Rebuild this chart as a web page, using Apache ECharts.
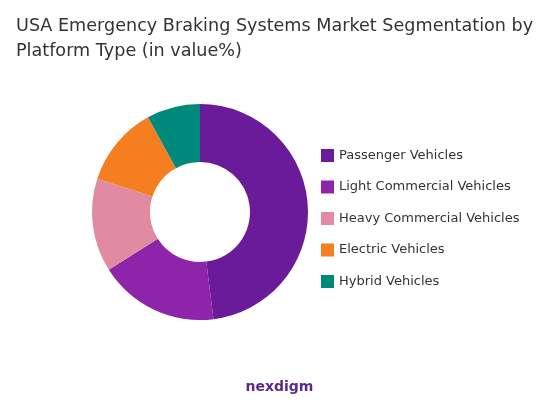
<!DOCTYPE html>
<html>
<head>
<meta charset="utf-8">
<script src="https://cdn.jsdelivr.net/npm/echarts@6/dist/echarts.min.js"></script>
<style>html,body{margin:0;padding:0;background:#fff}#chart{width:559px;height:407px}</style>
</head>
<body>
<div id="chart"></div>
<script>
const categories = ['Passenger Vehicles', 'Light Commercial Vehicles', 'Heavy Commercial Vehicles', 'Electric Vehicles', 'Hybrid Vehicles'];
const values = [48, 18, 14, 12, 8];
const colors = ['#6a1b9a', '#8e24aa', '#e08ba1', '#f57f20', '#00897b'];

const chart = echarts.init(document.getElementById('chart'));
chart.setOption({
    title: {
        text: 'USA Emergency Braking Systems Market Segmentation by\nPlatform Type (in value%)',
        left: 11, top: 9,
        textStyle: { fontFamily: 'DejaVu Sans', fontSize: 17.6, fontWeight: 'normal', color: '#333', lineHeight: 25 }
    },
    legend: {
        orient: 'vertical', left: 316, top: 144, itemGap: 18.5,
        icon: 'rect', itemWidth: 13, itemHeight: 13,
        textStyle: { fontFamily: 'DejaVu Sans', fontSize: 13, color: '#333' },
        data: categories
    },
    graphic: [{
        type: 'text', left: 'center', top: 380,
        style: { text: 'nexdigm', fill: '#5b2a86', font: 'bold 14px DejaVu Sans' }
    }],
    series: [{
        type: 'pie',
        center: [200, 212], radius: [50, 108],
        startAngle: 90, clockwise: true,
        label: { show: false }, labelLine: { show: false },
        data: categories.map((c, i) => ({ name: c, value: values[i], itemStyle: { color: colors[i] } }))
    }]
});
</script>
</body>
</html>
